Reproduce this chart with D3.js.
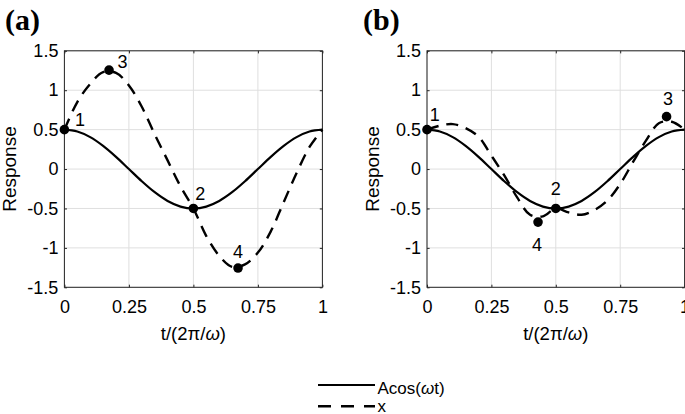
<!DOCTYPE html>
<html><head><meta charset="utf-8">
<script src="https://cdn.jsdelivr.net/npm/d3@7"></script>
<style>body{margin:0;background:#fff}svg{display:block}</style>
</head><body>
<svg id="chart" width="685" height="414"></svg>
<script>
// ---------- data ----------
const tSamples = [0,0.05,0.10,0.15,0.20,0.25,0.30,0.35,0.40,0.45,0.50,0.55,0.60,0.65,0.70,0.75,0.80,0.85,0.90,0.95,1.00];
const acosValues = [0.5,0.476,0.405,0.294,0.155,0,-0.155,-0.294,-0.405,-0.476,-0.5,-0.476,-0.405,-0.294,-0.155,0,0.155,0.294,0.405,0.476,0.5];
const xValuesA = [0.50,0.85,1.08,1.23,1.22,1.06,0.79,0.44,0.11,-0.22,-0.50,-0.85,-1.10,-1.24,-1.21,-1.06,-0.79,-0.42,-0.05,0.28,0.50];
const xValuesB = [0.50,0.55,0.57,0.52,0.41,0.17,-0.08,-0.36,-0.58,-0.60,-0.50,-0.55,-0.58,-0.52,-0.40,-0.19,0.09,0.36,0.58,0.60,0.50];
const pointLabels = ["1","2","3","4"];
const pointTA = [0, 0.5, 0.173, 0.673];
const pointVA = [0.5, -0.5, 1.255, -1.256];
const pointTB = [0, 0.5, 0.93, 0.431];
const pointVB = [0.5, -0.5, 0.665, -0.673];
const xTicks = [0, 0.25, 0.5, 0.75, 1];
const xTickLabels = ["0","0.25","0.5","0.75","1"];
const yTicks = [-1.5,-1,-0.5,0,0.5,1,1.5];
const yTickLabels = ["-1.5","-1","-0.5","0","0.5","1","1.5"];
const panelTitles = ["(a)","(b)"];
const seriesNames = ["Acos(\u03C9t)","x"];

// ---------- layout ----------
const svg = d3.select("#chart");
const FONT = "'Liberation Sans', Arial, sans-serif";
const AX = "#262626", GRID = "#dfdfdf";
const plotTop = 50.8, plotBottom = 287.3;
const panels = [
  {left: 64.4, right: 322.4, xv: xValuesA, pt: pointTA, pv: pointVA, title: panelTitles[0], titleX: 5,
   offs: [[15.7,-9.8],[6.8,-15],[13.5,-8.5],[0,-16]]},
  {left: 427.0, right: 684.6, xv: xValuesB, pt: pointTB, pv: pointVB, title: panelTitles[1], titleX: 363,
   offs: [[7.7,-15],[0,-20],[1.5,-17.7],[-1,23]]}
];

panels.forEach(p => {
  const x = d3.scaleLinear().domain([0,1]).range([p.left, p.right]);
  const y = d3.scaleLinear().domain([-1.5,1.5]).range([plotBottom, plotTop]);
  const g = svg.append("g");

  // grid
  g.selectAll(".gx").data(xTicks).join("line")
    .attr("x1", d=>x(d)).attr("x2", d=>x(d)).attr("y1", plotTop).attr("y2", plotBottom)
    .attr("stroke", GRID).attr("stroke-width", 1);
  g.selectAll(".gy").data(yTicks).join("line")
    .attr("y1", d=>y(d)).attr("y2", d=>y(d)).attr("x1", p.left).attr("x2", p.right)
    .attr("stroke", GRID).attr("stroke-width", 1);

  // axes with inward ticks
  const tl = 2.6;
  g.append("g").attr("transform", `translate(0,${plotBottom})`)
    .call(d3.axisBottom(x).tickValues(xTicks).tickFormat((d,i)=>xTickLabels[i]).tickSizeInner(-tl).tickSizeOuter(0).tickPadding(13))
    .call(a => { a.select(".domain").remove(); a.selectAll("line").attr("stroke", AX);
      a.selectAll("text").attr("font-family", FONT).attr("font-size", 18).attr("fill", "#000"); });
  g.append("g").attr("transform", `translate(0,${plotTop})`)
    .call(d3.axisTop(x).tickValues(xTicks).tickFormat("").tickSizeInner(-tl).tickSizeOuter(0))
    .call(a => { a.select(".domain").remove(); a.selectAll("line").attr("stroke", AX); });
  g.append("g").attr("transform", `translate(${p.left},0)`)
    .call(d3.axisLeft(y).tickValues(yTicks).tickFormat((d,i)=>yTickLabels[i]).tickSizeInner(-tl).tickSizeOuter(0).tickPadding(6))
    .call(a => { a.select(".domain").remove(); a.selectAll("line").attr("stroke", AX);
      a.selectAll("text").attr("font-family", FONT).attr("font-size", 18).attr("fill", "#000"); });
  g.append("g").attr("transform", `translate(${p.right},0)`)
    .call(d3.axisRight(y).tickValues(yTicks).tickFormat("").tickSizeInner(-tl).tickSizeOuter(0))
    .call(a => { a.select(".domain").remove(); a.selectAll("line").attr("stroke", AX); });
  g.append("rect").attr("x", p.left).attr("y", plotTop).attr("width", p.right-p.left).attr("height", plotBottom-plotTop)
    .attr("fill", "none").attr("stroke", AX).attr("stroke-width", 1);

  // curves
  const line = d3.line().x((d,i)=>x(tSamples[i])).y(d=>y(d)).curve(d3.curveCatmullRom.alpha(0.5));
  g.append("path").attr("d", line(acosValues)).attr("fill","none").attr("stroke","#000").attr("stroke-width",2.2);
  g.append("path").attr("d", line(p.xv)).attr("fill","none").attr("stroke","#000").attr("stroke-width",2.4)
    .attr("stroke-dasharray","12,8");

  // points
  g.selectAll(".pt").data(pointLabels).join("circle")
    .attr("cx", (d,i)=>x(p.pt[i])).attr("cy", (d,i)=>y(p.pv[i])).attr("r", 4.8).attr("fill","#000");
  g.selectAll(".pl").data(pointLabels).join("text")
    .attr("x", (d,i)=>x(p.pt[i]) + p.offs[i][0]).attr("y", (d,i)=>y(p.pv[i]) + p.offs[i][1])
    .attr("text-anchor","middle").attr("dy","0.35em")
    .attr("font-family", FONT).attr("font-size", 18).text(d=>d);

  // axis titles
  const xl = g.append("text").attr("x", (p.left+p.right)/2).attr("y", 340)
    .attr("text-anchor","middle").attr("font-family", FONT).attr("font-size", 18.5);
  xl.append("tspan").text("t/(2");
  xl.append("tspan").text("\u03C0");
  xl.append("tspan").text("/");
  xl.append("tspan").attr("font-style","italic").text("\u03C9");
  xl.append("tspan").text(")");
  g.append("text").attr("transform", `translate(${p.left-48.5},${(plotTop+plotBottom)/2}) rotate(-90)`)
    .attr("text-anchor","middle").attr("font-family", FONT).attr("font-size", 19).text("Response");

  // panel title
  svg.append("text").attr("x", p.titleX).attr("y", 29.5).attr("font-family", "'Liberation Serif', 'Times New Roman', serif")
    .attr("font-weight","bold").attr("font-size", 30).text(p.title);
});

// legend
const lg = svg.append("g");
const lx1 = 318, lx2 = 375;
[[385, null],[406.3, "13,10"]].forEach((s,i) => {
  lg.append("line").attr("x1", lx1).attr("x2", lx2).attr("y1", s[0]).attr("y2", s[0])
    .attr("stroke","#000").attr("stroke-width", i ? 2.4 : 2.2).attr("stroke-dasharray", s[1]);
});
const t1 = lg.append("text").attr("x", 377.5).attr("y", 394).attr("font-family", FONT).attr("font-size", 17);
t1.append("tspan").text("Acos(");
t1.append("tspan").attr("font-style","italic").text("\u03C9");
t1.append("tspan").text("t)");
lg.append("text").attr("x", 377.5).attr("y", 411.5).attr("font-family", FONT).attr("font-size", 17).text(seriesNames[1]);
</script>
</body></html>
